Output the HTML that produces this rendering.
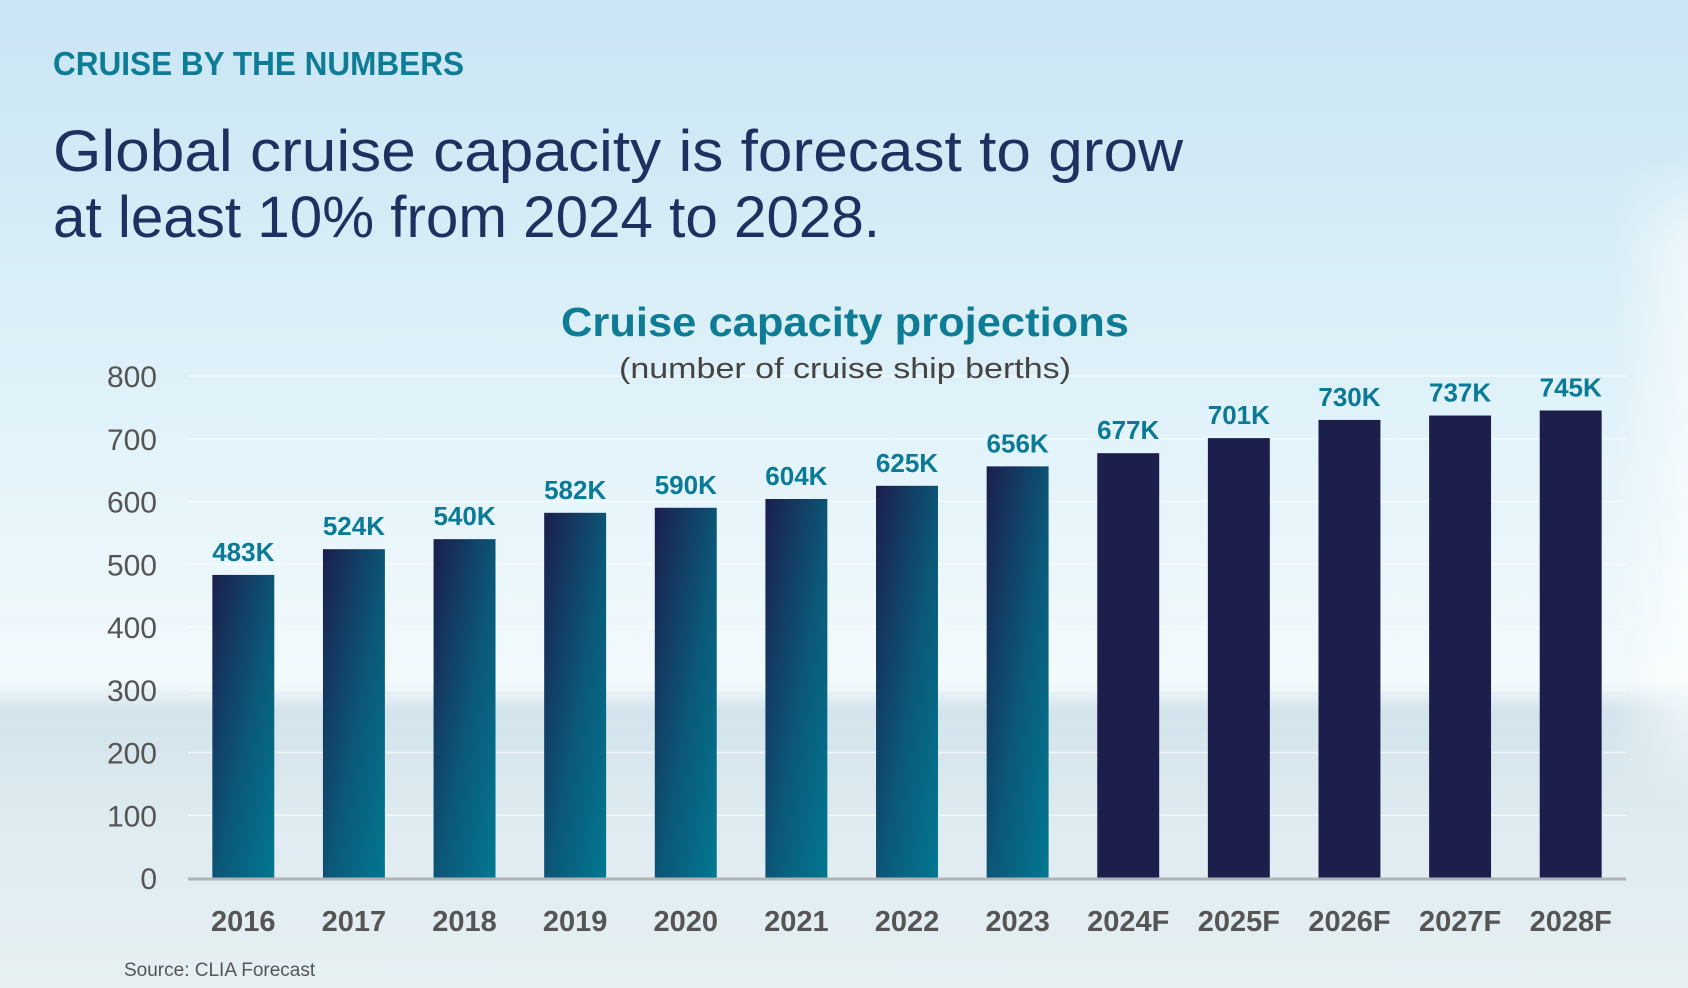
<!DOCTYPE html>
<html><head><meta charset="utf-8"><style>
html,body{margin:0;padding:0;width:1688px;height:988px;overflow:hidden}
svg{display:block}
text{font-family:"Liberation Sans",sans-serif}
</style></head><body>
<svg id="chart" width="1688" height="988" viewBox="0 0 1688 988">
<defs>
<linearGradient id="sky" x1="0" y1="0" x2="0" y2="1">
<stop offset="0" stop-color="#c9e5f4"/><stop offset="0.45" stop-color="#e2f3fa"/>
<stop offset="0.69" stop-color="#f3fafc"/><stop offset="0.72" stop-color="#d3e4ec"/>
<stop offset="0.85" stop-color="#e0ecf1"/><stop offset="1" stop-color="#e6f0f3"/>
</linearGradient>
<linearGradient id="barGrad" x1="0" y1="0" x2="1" y2="1" gradientUnits="objectBoundingBox">
<stop offset="0" stop-color="#1b1f4d"/><stop offset="0.55" stop-color="#0b5878"/><stop offset="1" stop-color="#027891"/>
</linearGradient>
<linearGradient id="ship" x1="0" y1="0" x2="1" y2="0">
<stop offset="0" stop-color="#ffffff" stop-opacity="0"/><stop offset="1" stop-color="#ffffff" stop-opacity="0.6"/>
</linearGradient>
<linearGradient id="shipV" x1="0" y1="0" x2="0" y2="1">
<stop offset="0" stop-color="#fff" stop-opacity="0"/><stop offset="0.15" stop-color="#fff" stop-opacity="1"/><stop offset="0.85" stop-color="#fff" stop-opacity="1"/><stop offset="1" stop-color="#fff" stop-opacity="0"/>
</linearGradient>
<mask id="shipMask"><rect x="1610" y="150" width="78" height="660" fill="url(#shipV)"/></mask>
</defs>
<rect width="1688" height="988" fill="url(#sky)"/>
<rect x="1610" y="150" width="78" height="660" fill="url(#ship)" mask="url(#shipMask)"/>
<text x="53" y="75" font-size="33" font-weight="bold" fill="#0e7c95" textLength="411" lengthAdjust="spacingAndGlyphs">CRUISE BY THE NUMBERS</text>
<text x="53" y="171" font-size="58" fill="#1f2f5f" textLength="1130" lengthAdjust="spacingAndGlyphs">Global cruise capacity is forecast to grow</text>
<text x="53" y="237" font-size="58" fill="#1f2f5f" textLength="827" lengthAdjust="spacingAndGlyphs">at least 10% from 2024 to 2028.</text>
<g id="grid"></g>
<text x="845" y="336" font-size="41" font-weight="bold" fill="#0e7c95" text-anchor="middle" textLength="568" lengthAdjust="spacingAndGlyphs">Cruise capacity projections</text>
<text x="845" y="378" font-size="29" fill="#444" text-anchor="middle" textLength="452" lengthAdjust="spacingAndGlyphs">(number of cruise ship berths)</text>
<g id="bars"></g><g id="labels"></g>
<text x="124" y="976" font-size="19" fill="#555">Source:  CLIA Forecast</text>
</svg>
<script>
const categories=["2016","2017","2018","2019","2020","2021","2022","2023","2024F","2025F","2026F","2027F","2028F"];
const values=[483,524,540,582,590,604,625,656,677,701,730,737,745];
const valueLabels=["483K","524K","540K","582K","590K","604K","625K","656K","677K","701K","730K","737K","745K"];
const forecast=[false,false,false,false,false,false,false,false,true,true,true,true,true];
const yTicks=[0,100,200,300,400,500,600,700,800];
const NS="http://www.w3.org/2000/svg";
const X0=188,X1=1626,Y0=878,Y1=376,YMAX=800;
const band=(X1-X0)/categories.length;
const y=v=>Y0-(v/YMAX)*(Y0-Y1);
const xc=i=>X0+band*(i+0.5);
function mk(tag,attrs,parent,txt){const e=document.createElementNS(NS,tag);for(const k in attrs)e.setAttribute(k,attrs[k]);if(txt!==undefined)e.textContent=txt;parent.appendChild(e);return e;}
const grid=document.getElementById('grid'),bars=document.getElementById('bars'),labels=document.getElementById('labels');
yTicks.forEach(t=>{
  if(t>0){const l=mk('line',{x1:X0,x2:X1,y1:y(t),y2:y(t),stroke:'#ffffff','stroke-opacity':0.6,'stroke-width':1.5},grid);
  
  }
  const tx=mk('text',{x:157,y:y(t)+11,'font-size':30,fill:'#555','text-anchor':'end'},grid,String(t));
  
  
});
const bw=band*0.56;
categories.forEach((c,i)=>{
  const r=mk('rect',{x:xc(i)-bw/2,y:y(values[i]),width:bw,height:Y0-y(values[i]),fill:forecast[i]?'#1c1f4c':'url(#barGrad)'},bars);
  
  
  const v=mk('text',{x:xc(i),y:y(values[i])-14,'font-size':26,'font-weight':'bold',fill:'#0a7a96','text-anchor':'middle'},labels,valueLabels[i]);
  
  
  const xl=mk('text',{x:xc(i),y:931,'font-size':29,'font-weight':'bold',fill:'#555','text-anchor':'middle'},labels,c);
  
  
});
const ax=mk('line',{x1:X0,x2:X1,y1:Y0+1,y2:Y0+1,stroke:'#b0b4b8','stroke-width':3},labels);


</script>
</body></html>
